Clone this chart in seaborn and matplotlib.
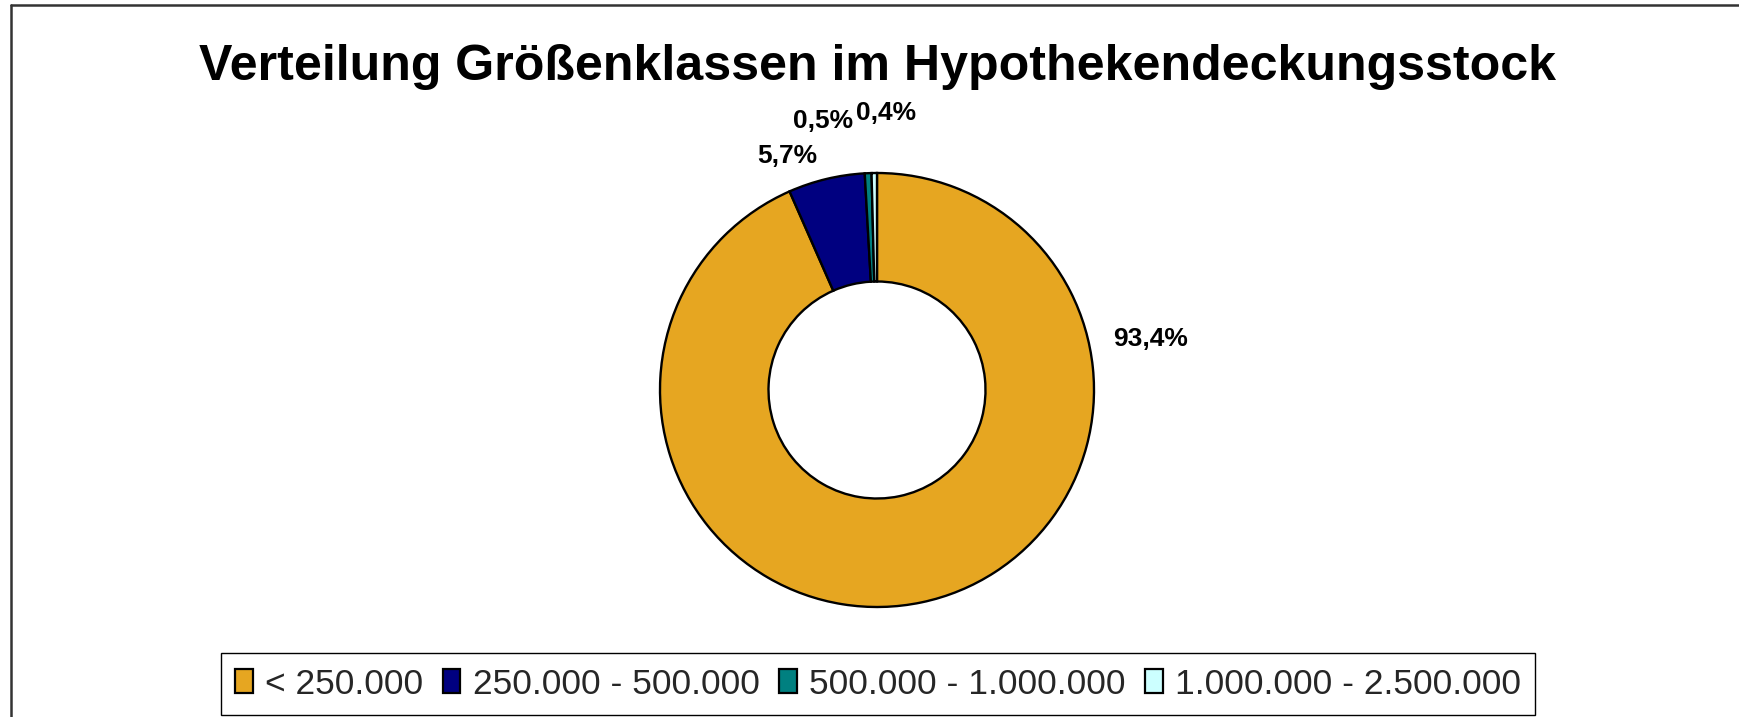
import matplotlib
matplotlib.use("Agg")
import matplotlib.pyplot as plt
import seaborn as sns
from matplotlib.lines import Line2D

# data
classes = ["< 250.000", "250.000 - 500.000", "500.000 - 1.000.000", "1.000.000 - 2.500.000"]
shares = [93.4, 5.7, 0.5, 0.4]
share_labels = ["93,4%", "5,7%", "0,5%", "0,4%"]
colors = ["#E6A621", "#000080", "#008080", "#CCFFFF"]

title = "Verteilung Größenklassen im Hypothekendeckungsstock"

sns.set_theme(style="white")
plt.rcParams["font.family"] = ["Liberation Sans", "DejaVu Sans"]
palette = sns.color_palette(colors)

W, H = 1740, 717
fig = plt.figure(figsize=(W / 100, H / 100), dpi=100)

# doughnut placement (pixels, from top-left)
cx, cy, r = 877, 390, 217
ax = fig.add_axes([(cx - r) / W, (H - cy - r) / H, 2 * r / W, 2 * r / H])
wedges, _ = ax.pie(
    shares,
    colors=palette,
    startangle=90,
    counterclock=False,
    radius=1.0,
    wedgeprops=dict(width=0.5, edgecolor="black", linewidth=1.7),
)
ax.set_xlim(-1, 1)
ax.set_ylim(-1, 1)
ax.set_aspect("equal")
ax.axis("off")

# percentage labels, positioned like the Excel original
label_pos = [(1.259, 0.235), (-0.415, 1.080), (-0.250, 1.238), (0.042, 1.275)]
for txt, (lx, ly) in zip(share_labels, label_pos):
    ax.text(lx, ly, txt, ha="center", va="center", fontsize=19,
            fontweight="bold", color="black", clip_on=False)

fig.text(878 / W, 1 - 67 / H, title, ha="center", va="center",
         fontsize=36.1, fontweight="bold", color="black")

leg = fig.legend(
    wedges, classes,
    loc="center", bbox_to_anchor=(878 / W, 1 - 684 / H),
    ncol=4, fontsize=25.5, frameon=True, fancybox=False,
    handlelength=0.5, handleheight=0.65, handletextpad=0.35,
    columnspacing=0.55, borderpad=0.4, borderaxespad=0,
)
leg.get_frame().set_edgecolor("black")
leg.get_frame().set_linewidth(1.0)
leg.get_frame().set_alpha(1)
for h in leg.legend_handles:
    h.set_linewidth(1.6)

# outer chart frame (only left and top edges visible)
fig.add_artist(Line2D([11 / W, 11 / W], [0, 1 - 5 / H], color="#333333", lw=1.8))
fig.add_artist(Line2D([11 / W, 1], [1 - 5 / H, 1 - 5 / H], color="#333333", lw=1.8))

fig.savefig("out.png", dpi=100)
